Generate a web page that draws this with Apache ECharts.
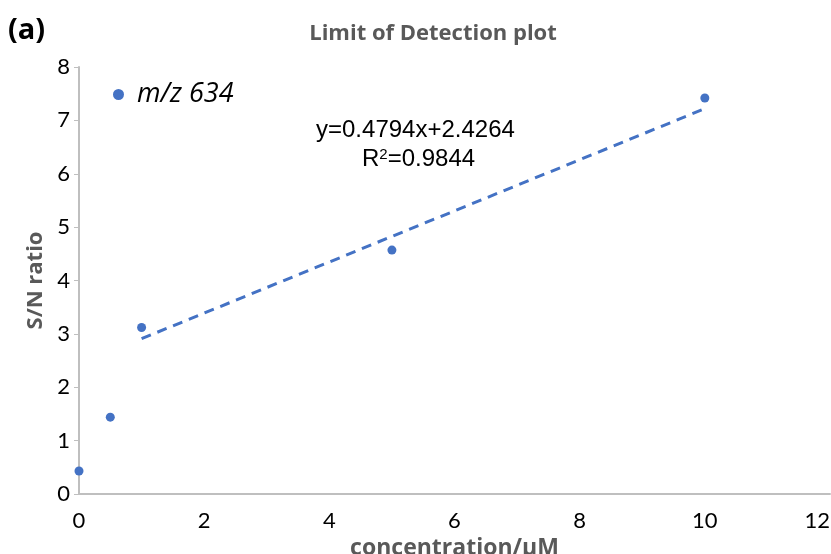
<!DOCTYPE html>
<html>
<head>
<meta charset="utf-8">
<script src="https://cdn.jsdelivr.net/npm/echarts@6/dist/echarts.min.js"></script>
<style>
	html, body { margin: 0; padding: 0; background: #fff; }
	#main { width: 831px; height: 554px; }
</style>
</head>
<body>
<div id="main"></div>
<script>
// 测量点
var concentration = [0, 0.5, 1, 5, 10]
var snRatio = [0.43, 1.44, 3.12, 4.57, 7.42]
// 趋势线端点 (x=1 到 x=10)
var trendX = [1, 10]
var trendY = [2.91, 7.22]
var xTicks = [0, 2, 4, 6, 8, 10, 12]
var yTicks = [0, 1, 2, 3, 4, 5, 6, 7, 8]

var points = concentration.map(function (x, i) { return [x, snRatio[i]] })
var trend = trendX.map(function (x, i) { return [x, trendY[i]] })

var myChart = echarts.init(document.getElementById('main'))
myChart.setOption({
	animation: false,
	title: {
		text: 'Limit of Detection plot',
		left: 428,
		top: 18,
		textAlign: 'center',
		textStyle: { color: '#595959', fontSize: 22, fontWeight: 'bold', fontFamily: 'Open Sans' },
	},
	legend: {
		data: ['m/z 634'],
		left: 108,
		top: 76,
		icon: 'circle',
		itemWidth: 11,
		itemHeight: 11,
		itemGap: 0,
		textStyle: { fontSize: 27, fontStyle: 'italic', color: '#000', fontFamily: 'Open Sans', padding: [0, 0, 0, 8] },
	},
	graphic: [
		{ type: 'text', left: 8, top: 16, style: { text: '(a)', fontSize: 29, fontWeight: 'bold', fill: '#000', fontFamily: 'Open Sans' } },
		{ type: 'text', left: 316, top: 118, style: { text: 'y=0.4794x+2.4264', fontSize: 24, fill: '#000', fontFamily: 'Liberation Sans' } },
		{ type: 'text', left: 362, top: 147, style: { text: '{a|R}{b|2}{a|=0.9844}', rich: { a: { fontSize: 24, fill: '#000', fontFamily: 'Liberation Sans' }, b: { fontSize: 15, fill: '#000', fontFamily: 'Liberation Sans', verticalAlign: 'top', padding: [0, 0, 10, 0] } } } },
	],
	grid: { left: 79, right: 1, top: 67, bottom: 60, outerBoundsMode: 'none', containLabel: false },
	xAxis: {
		type: 'value',
		min: 0,
		max: 12,
		interval: 2,
		name: 'concentration/μM',
		nameLocation: 'middle',
		nameGap: 43,
		nameTextStyle: { color: '#595959', fontSize: 23, fontWeight: 'bold', fontFamily: 'Open Sans' },
		axisLine: { lineStyle: { color: '#bfbfbf', width: 2 } },
		axisTick: { show: false },
		splitLine: { show: false },
		axisLabel: {
			color: '#000', fontSize: 22, fontFamily: 'Lato', margin: 16, alignMaxLabel: 'right',
			formatter: function (v) { return xTicks.indexOf(v) >= 0 ? v : '' },
		},
	},
	yAxis: {
		type: 'value',
		min: 0,
		max: 8,
		interval: 1,
		name: 'S/N ratio',
		nameLocation: 'middle',
		nameGap: 31,
		nameTextStyle: { color: '#595959', fontSize: 22, fontWeight: 'bold', fontFamily: 'Open Sans' },
		axisLine: { show: true, lineStyle: { color: '#bfbfbf', width: 2 } },
		axisTick: { show: true, length: 5, lineStyle: { color: '#bfbfbf' } },
		splitLine: { show: false },
		axisLabel: {
			color: '#000', fontSize: 22, fontFamily: 'Lato', margin: 9,
			formatter: function (v) { return yTicks.indexOf(v) >= 0 ? v : '' },
		},
	},
	series: [
		{
			name: 'm/z 634',
			type: 'scatter',
			data: points,
			symbolSize: 9,
			itemStyle: { color: '#4472c4', opacity: 1 },
		},
		{
			name: 'trend',
			type: 'line',
			data: trend,
			symbol: 'none',
			lineStyle: { color: '#4472c4', width: 3, type: [10, 7] },
		},
	],
})
</script>
</body>
</html>
